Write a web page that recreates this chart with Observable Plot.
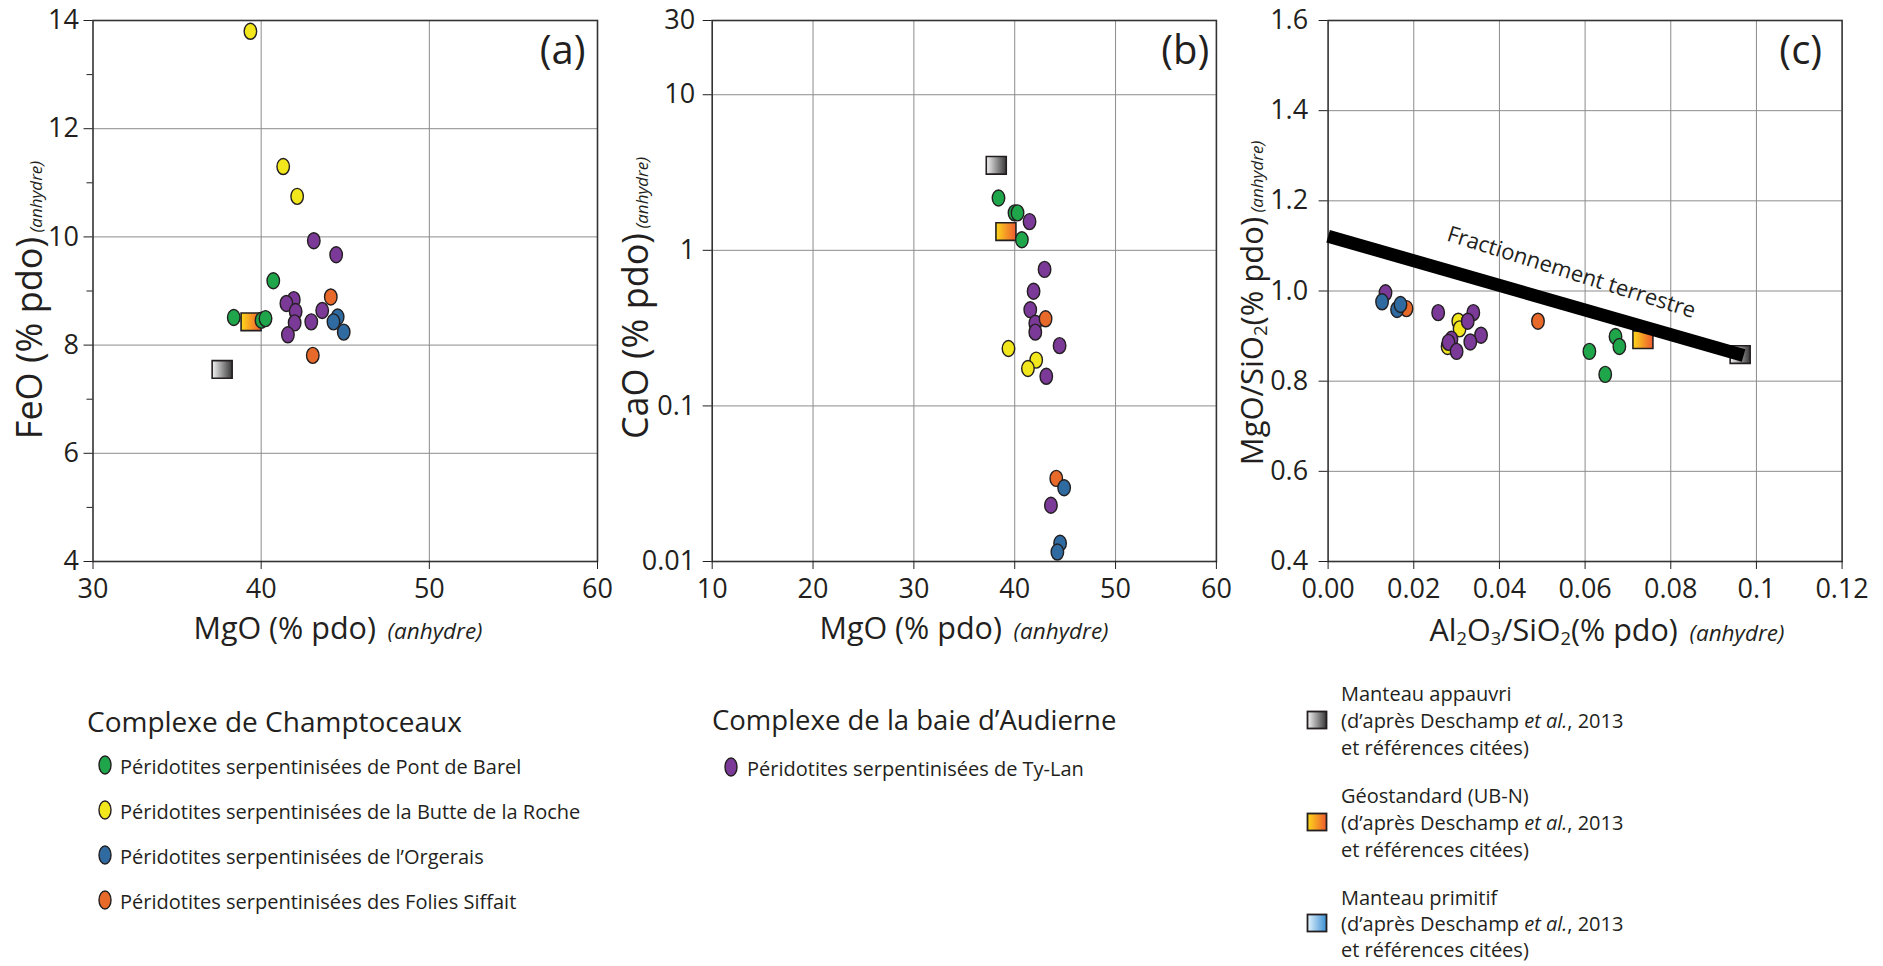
<!DOCTYPE html>
<html>
<head>
<meta charset="utf-8">
<script src="https://cdn.jsdelivr.net/npm/d3@7"></script>
<script src="https://cdn.jsdelivr.net/npm/@observablehq/plot@0.6"></script>
<style>
  body { margin: 0; background: #fff; font-family: "Open Sans", sans-serif; color: #231f20; }
  #chart { position: relative; width: 1883px; height: 966px; overflow: hidden; background: #fff; }
  .panel { position: absolute; top: 0; }
  .t { position: absolute; white-space: nowrap; line-height: 1; }
  .ytitle { transform: translate(-50%, -50%) rotate(-90deg); }
  .xtitle { transform: translate(-50%, -50%); }
  .leg { position: absolute; white-space: nowrap; line-height: 1; transform: translateY(-50%); }
  sub { font-size: 0.6em; vertical-align: -0.25em; line-height: 0; }
</style>
</head>
<body>
<svg width="0" height="0" style="position:absolute">
  <defs>
    <linearGradient id="gGray" x1="0" x2="1" y1="0" y2="0">
      <stop offset="0" stop-color="#f4f4f4"/><stop offset="1" stop-color="#383838"/>
    </linearGradient>
    <linearGradient id="gGeo" x1="0" x2="1" y1="0" y2="0">
      <stop offset="0" stop-color="#fdd81a"/><stop offset="1" stop-color="#ee5a30"/>
    </linearGradient>
    <linearGradient id="gPrim" x1="0" x2="1" y1="0" y2="0">
      <stop offset="0" stop-color="#e4f4fd"/><stop offset="1" stop-color="#3a8fd3"/>
    </linearGradient>
  </defs>
</svg>
<div id="chart"></div>
<script>
// ---------- categories ----------
const seriesNames = ["Pont de Barel", "Butte de la Roche", "Orgerais", "Folies Siffait", "Ty-Lan"];
const seriesColors = ["#1fa64b", "#f2e71c", "#2f6aa0", "#e86a2a", "#7b3a97"];
const drawOrder = ["Pont de Barel", "Butte de la Roche", "Ty-Lan", "Folies Siffait", "Orgerais"];
const seriesLabels = [
  "Péridotites serpentinisées de Pont de Barel",
  "Péridotites serpentinisées de la Butte de la Roche",
  "Péridotites serpentinisées de l’Orgerais",
  "Péridotites serpentinisées des Folies Siffait",
  "Péridotites serpentinisées de Ty-Lan"
];
const refNames = ["Manteau appauvri", "Géostandard (UB-N)", "Manteau primitif"];
const refFills = ["url(#gGray)", "url(#gGeo)", "url(#gPrim)"];

// ---------- panel (a): [series, MgO, FeO] ----------
const feoVsMgo = [
  ["Pont de Barel", 38.37, 8.51], ["Pont de Barel", 40.02, 8.46], ["Pont de Barel", 40.26, 8.49], ["Pont de Barel", 40.72, 9.19],
  ["Butte de la Roche", 39.36, 13.80], ["Butte de la Roche", 41.31, 11.30], ["Butte de la Roche", 42.14, 10.75],
  ["Orgerais", 44.55, 8.52], ["Orgerais", 44.30, 8.43], ["Orgerais", 44.91, 8.24],
  ["Folies Siffait", 44.14, 8.89], ["Folies Siffait", 43.07, 7.81],
  ["Ty-Lan", 43.13, 9.93], ["Ty-Lan", 44.46, 9.67], ["Ty-Lan", 41.94, 8.84], ["Ty-Lan", 41.50, 8.77],
  ["Ty-Lan", 42.05, 8.62], ["Ty-Lan", 41.99, 8.41], ["Ty-Lan", 41.59, 8.19], ["Ty-Lan", 42.98, 8.43], ["Ty-Lan", 43.63, 8.64]
];
const refA = [["Manteau appauvri", 37.68, 7.55], ["Géostandard (UB-N)", 39.40, 8.43]];

// ---------- panel (b): [series, MgO, CaO] ----------
const caoVsMgo = [
  ["Pont de Barel", 38.39, 2.17], ["Pont de Barel", 39.98, 1.74], ["Pont de Barel", 40.28, 1.74], ["Pont de Barel", 40.71, 1.17],
  ["Butte de la Roche", 39.38, 0.234], ["Butte de la Roche", 42.13, 0.197], ["Butte de la Roche", 41.31, 0.174],
  ["Orgerais", 44.90, 0.0298], ["Orgerais", 44.50, 0.0131], ["Orgerais", 44.23, 0.0115],
  ["Folies Siffait", 43.06, 0.363], ["Folies Siffait", 44.12, 0.0342],
  ["Ty-Lan", 41.47, 1.53], ["Ty-Lan", 42.96, 0.754], ["Ty-Lan", 41.87, 0.546], ["Ty-Lan", 41.54, 0.415],
  ["Ty-Lan", 42.04, 0.340], ["Ty-Lan", 42.04, 0.298], ["Ty-Lan", 44.45, 0.244], ["Ty-Lan", 43.13, 0.155], ["Ty-Lan", 43.59, 0.0230]
];
const refB = [["Manteau appauvri", 38.17, 3.52], ["Géostandard (UB-N)", 39.13, 1.32]];

// ---------- panel (c): [series, Al2O3/SiO2, MgO/SiO2] ----------
const mgsiVsAlsi = [
  ["Pont de Barel", 0.0671, 0.899], ["Pont de Barel", 0.0680, 0.877], ["Pont de Barel", 0.0610, 0.866], ["Pont de Barel", 0.0647, 0.815],
  ["Butte de la Roche", 0.0304, 0.933], ["Butte de la Roche", 0.0307, 0.916], ["Butte de la Roche", 0.0279, 0.877],
  ["Folies Siffait", 0.0183, 0.961], ["Folies Siffait", 0.0490, 0.933],
  ["Ty-Lan", 0.0134, 0.996], ["Ty-Lan", 0.0257, 0.952], ["Ty-Lan", 0.0339, 0.952], ["Ty-Lan", 0.0326, 0.933],
  ["Ty-Lan", 0.0357, 0.902], ["Ty-Lan", 0.0332, 0.887], ["Ty-Lan", 0.0288, 0.893], ["Ty-Lan", 0.0281, 0.886], ["Ty-Lan", 0.0300, 0.866],
  ["Orgerais", 0.0126, 0.976], ["Orgerais", 0.0161, 0.959], ["Orgerais", 0.0169, 0.970]
];
const refC = [["Manteau appauvri", 0.0962, 0.859], ["Géostandard (UB-N)", 0.0735, 0.892]];
const fractionLine = [[0, 1.1216], [0.0970, 0.857]];
const fractionLabel = [["Fractionnement terrestre", 0.0568, 1.041]];

// ---------- ticks ----------
const aXTicks = [30, 40, 50, 60], aXGrid = [40, 50];
const aYTicks = [4, 6, 8, 10, 12, 14], aYMinor = [5, 7, 9, 11, 13], aYGrid = [6, 8, 10, 12];
const bXTicks = [10, 20, 30, 40, 50, 60], bXGrid = [20, 30, 40, 50];
const bYTicks = [0.01, 0.1, 1, 10, 30], bYTickLabels = ["0.01", "0.1", "1", "10", "30"], bYGrid = [0.1, 1, 10];
const cXTicks = [0, 0.02, 0.04, 0.06, 0.08, 0.1, 0.12], cXTickLabels = ["0.00", "0.02", "0.04", "0.06", "0.08", "0.1", "0.12"];
const cXGrid = [0.02, 0.04, 0.06, 0.08, 0.1];
const cYTicks = [0.4, 0.6, 0.8, 1.0, 1.2, 1.4, 1.6], cYTickLabels = ["0.4", "0.6", "0.8", "1.0", "1.2", "1.4", "1.6"];
const cYGrid = [0.6, 0.8, 1.0, 1.2, 1.4];

// ---------- symbols ----------
const ellipseSym = {
  draw(ctx, size) {
    const r = Math.sqrt(size / Math.PI), rx = r * 0.78, ry = r, k = 0.5523;
    ctx.moveTo(rx, 0);
    ctx.bezierCurveTo(rx, k * ry, k * rx, ry, 0, ry);
    ctx.bezierCurveTo(-k * rx, ry, -rx, k * ry, -rx, 0);
    ctx.bezierCurveTo(-rx, -k * ry, -k * rx, -ry, 0, -ry);
    ctx.bezierCurveTo(k * rx, -ry, rx, -k * ry, rx, 0);
    ctx.closePath();
  }
};
const rectSym = {
  draw(ctx, size) {
    const r = Math.sqrt(size / Math.PI), w = r, h = r * 0.88;
    ctx.moveTo(-w, -h); ctx.lineTo(w, -h); ctx.lineTo(w, h); ctx.lineTo(-w, h); ctx.closePath();
  }
};

const ink = "#231f20";
const ordered = (arr) => drawOrder.flatMap((g) => arr.filter((d) => d[0] === g));

function refMarks(refs) {
  return refs.map((d) => Plot.dot([d], {
    x: (v) => v[1], y: (v) => v[2], symbol: rectSym, r: 10,
    fill: refFills[refNames.indexOf(d[0])], stroke: ink, strokeWidth: 1.6
  }));
}

function makePanel(o) {
  const fmt = (ticks, labels) => labels ? (d) => labels[ticks.indexOf(d)] : (d) => String(d);
  const marks = [
    Plot.gridX(o.xGrid, {stroke: "#8c8c8c", strokeOpacity: 1, strokeWidth: 1}),
    Plot.gridY(o.yGrid, {stroke: "#8c8c8c", strokeOpacity: 1, strokeWidth: 1}),
    Plot.frame({stroke: "#333", strokeWidth: 1.6}),
    Plot.axisX(o.xTicks, {tickSize: 8, tickPadding: 9, tickFormat: fmt(o.xTicks, o.xLabels), label: null, fontSize: 27}),
    Plot.axisY(o.yTicks, {tickSize: 9, tickPadding: o.yPad, tickFormat: fmt(o.yTicks, o.yLabels), label: null, fontSize: 27}),
    ...(o.yMinor ? [Plot.axisY(o.yMinor, {tickSize: 6, tickFormat: () => "", label: null})] : []),
    ...refMarks(o.refs),
    Plot.dot(ordered(o.data), {x: (d) => d[1], y: (d) => d[2], fill: (d) => d[0], symbol: ellipseSym, r: 8, stroke: ink, strokeWidth: 1.4}),
    ...(o.extra || []),
    Plot.text([o.letter], {text: (d) => d, frameAnchor: "top-right", textAnchor: "end", lineAnchor: "top", dx: o.letterDx, dy: 15, fontSize: 40})
  ];
  const svg = Plot.plot({
    width: o.width, height: 650,
    marginLeft: o.marginLeft, marginRight: o.marginRight, marginTop: 20, marginBottom: 89,
    x: {...o.x, label: null},
    y: {...o.y, label: null},
    color: {domain: seriesNames, range: seriesColors},
    style: {background: "transparent", fontFamily: "Open Sans", fontSize: "27px", color: ink, overflow: "visible"},
    marks
  });
  svg.classList.add("panel");
  svg.style.left = o.left + "px";
  svg.style.maxWidth = "none";
  return svg;
}

const chart = document.getElementById("chart");

chart.appendChild(makePanel({
  left: 0, width: 640, marginLeft: 92.5, marginRight: 43,
  x: {domain: [30, 60]}, y: {domain: [4, 14]},
  xTicks: aXTicks, xGrid: aXGrid, yTicks: aYTicks, yGrid: aYGrid, yMinor: aYMinor, yPad: 5,
  refs: refA, data: feoVsMgo, letter: "(a)", letterDx: -12
}));

chart.appendChild(makePanel({
  left: 620, width: 620, marginLeft: 91.7, marginRight: 24.1,
  x: {domain: [10, 60]}, y: {type: "log", domain: [0.01, 30]},
  xTicks: bXTicks, xGrid: bXGrid, yTicks: bYTicks, yLabels: bYTickLabels, yGrid: bYGrid, yPad: 8,
  refs: refB, data: caoVsMgo, letter: "(b)", letterDx: -7
}));

chart.appendChild(makePanel({
  left: 1240, width: 643, marginLeft: 87.6, marginRight: 41.4,
  x: {domain: [0, 0.12]}, y: {domain: [0.4, 1.6]},
  xTicks: cXTicks, xLabels: cXTickLabels, xGrid: cXGrid, yTicks: cYTicks, yLabels: cYTickLabels, yGrid: cYGrid, yPad: 11,
  refs: refC, data: mgsiVsAlsi, letter: "(c)", letterDx: -20,
  extra: [
    Plot.line(fractionLine, {x: (d) => d[0], y: (d) => d[1], stroke: "#000", strokeWidth: 13, strokeLinecap: "butt"}),
    Plot.text(fractionLabel, {x: (d) => d[1], y: (d) => d[2], text: (d) => d[0], rotate: 17.5, fontSize: 22, fill: ink})
  ]
}));

// ---------- axis titles ----------
function addTitle(cls, cx, cy, html) {
  const el = document.createElement("div");
  el.className = "t " + cls;
  el.style.left = cx + "px";
  el.style.top = cy + "px";
  el.innerHTML = html;
  chart.appendChild(el);
}
const xAnh = '<i style="font-size:22.5px">&nbsp;&nbsp;(anhydre)</i>';
const yAnh = '<i style="font-size:17px">&nbsp;(anhydre)</i>';
addTitle("xtitle", 338, 627, '<span style="font-size:30.5px">MgO (% pdo)</span>' + xAnh);
addTitle("xtitle", 964, 627, '<span style="font-size:30.5px">MgO (% pdo)</span>' + xAnh);
addTitle("xtitle", 1607, 629, '<span style="font-size:30.5px">Al<sub>2</sub>O<sub>3</sub>/SiO<sub>2</sub>(% pdo)</span>' + xAnh);
addTitle("ytitle", 29, 300, '<span style="font-size:36px">FeO (% pdo)</span>' + yAnh);
addTitle("ytitle", 635, 298, '<span style="font-size:36px">CaO (% pdo)</span>' + yAnh);
addTitle("ytitle", 1251, 303, '<span style="font-size:31px">MgO/SiO<sub>2</sub>(% pdo)</span>' + yAnh);

// ---------- legend ----------
function leg(x, y, html, size) {
  const el = document.createElement("div");
  el.className = "leg";
  el.style.left = x + "px"; el.style.top = y + "px"; el.style.fontSize = size + "px";
  el.innerHTML = html;
  chart.appendChild(el);
}
function ellipseSwatch(cx, cy, color) {
  leg(cx - 8, cy, `<svg width="16" height="22" style="display:block"><ellipse cx="8" cy="11" rx="6" ry="9" fill="${color}" stroke="${ink}" stroke-width="1.4"/></svg>`, 10);
}
function rectSwatch(cx, cy, fill) {
  leg(cx - 11, cy, `<svg width="22" height="20" style="display:block"><rect x="1.5" y="1.5" width="19" height="17" fill="${fill}" stroke="${ink}" stroke-width="1.8"/></svg>`, 10);
}
leg(87, 721, "Complexe de Champtoceaux", 28);
[0, 1, 2, 3].forEach((i, k) => {
  const y = 767 + k * 45;
  ellipseSwatch(105, y - 2, seriesColors[i]);
  leg(120, y, seriesLabels[i], 20);
});
leg(712, 720, "Complexe de la baie d’Audierne", 27.5);
ellipseSwatch(731, 767, seriesColors[4]);
leg(747, 769, seriesLabels[4], 20);

const refYs = [[694, 721, 748], [796, 823, 850], [898, 924, 950]];
refNames.forEach((name, i) => {
  rectSwatch(1317, refYs[i][1] - 1, refFills[i]);
  leg(1341, refYs[i][0], name, 20);
  leg(1341, refYs[i][1], "(d’après Deschamp <i>et al.</i>, 2013", 20);
  leg(1341, refYs[i][2], "et références citées)", 20);
});
</script>
</body>
</html>
